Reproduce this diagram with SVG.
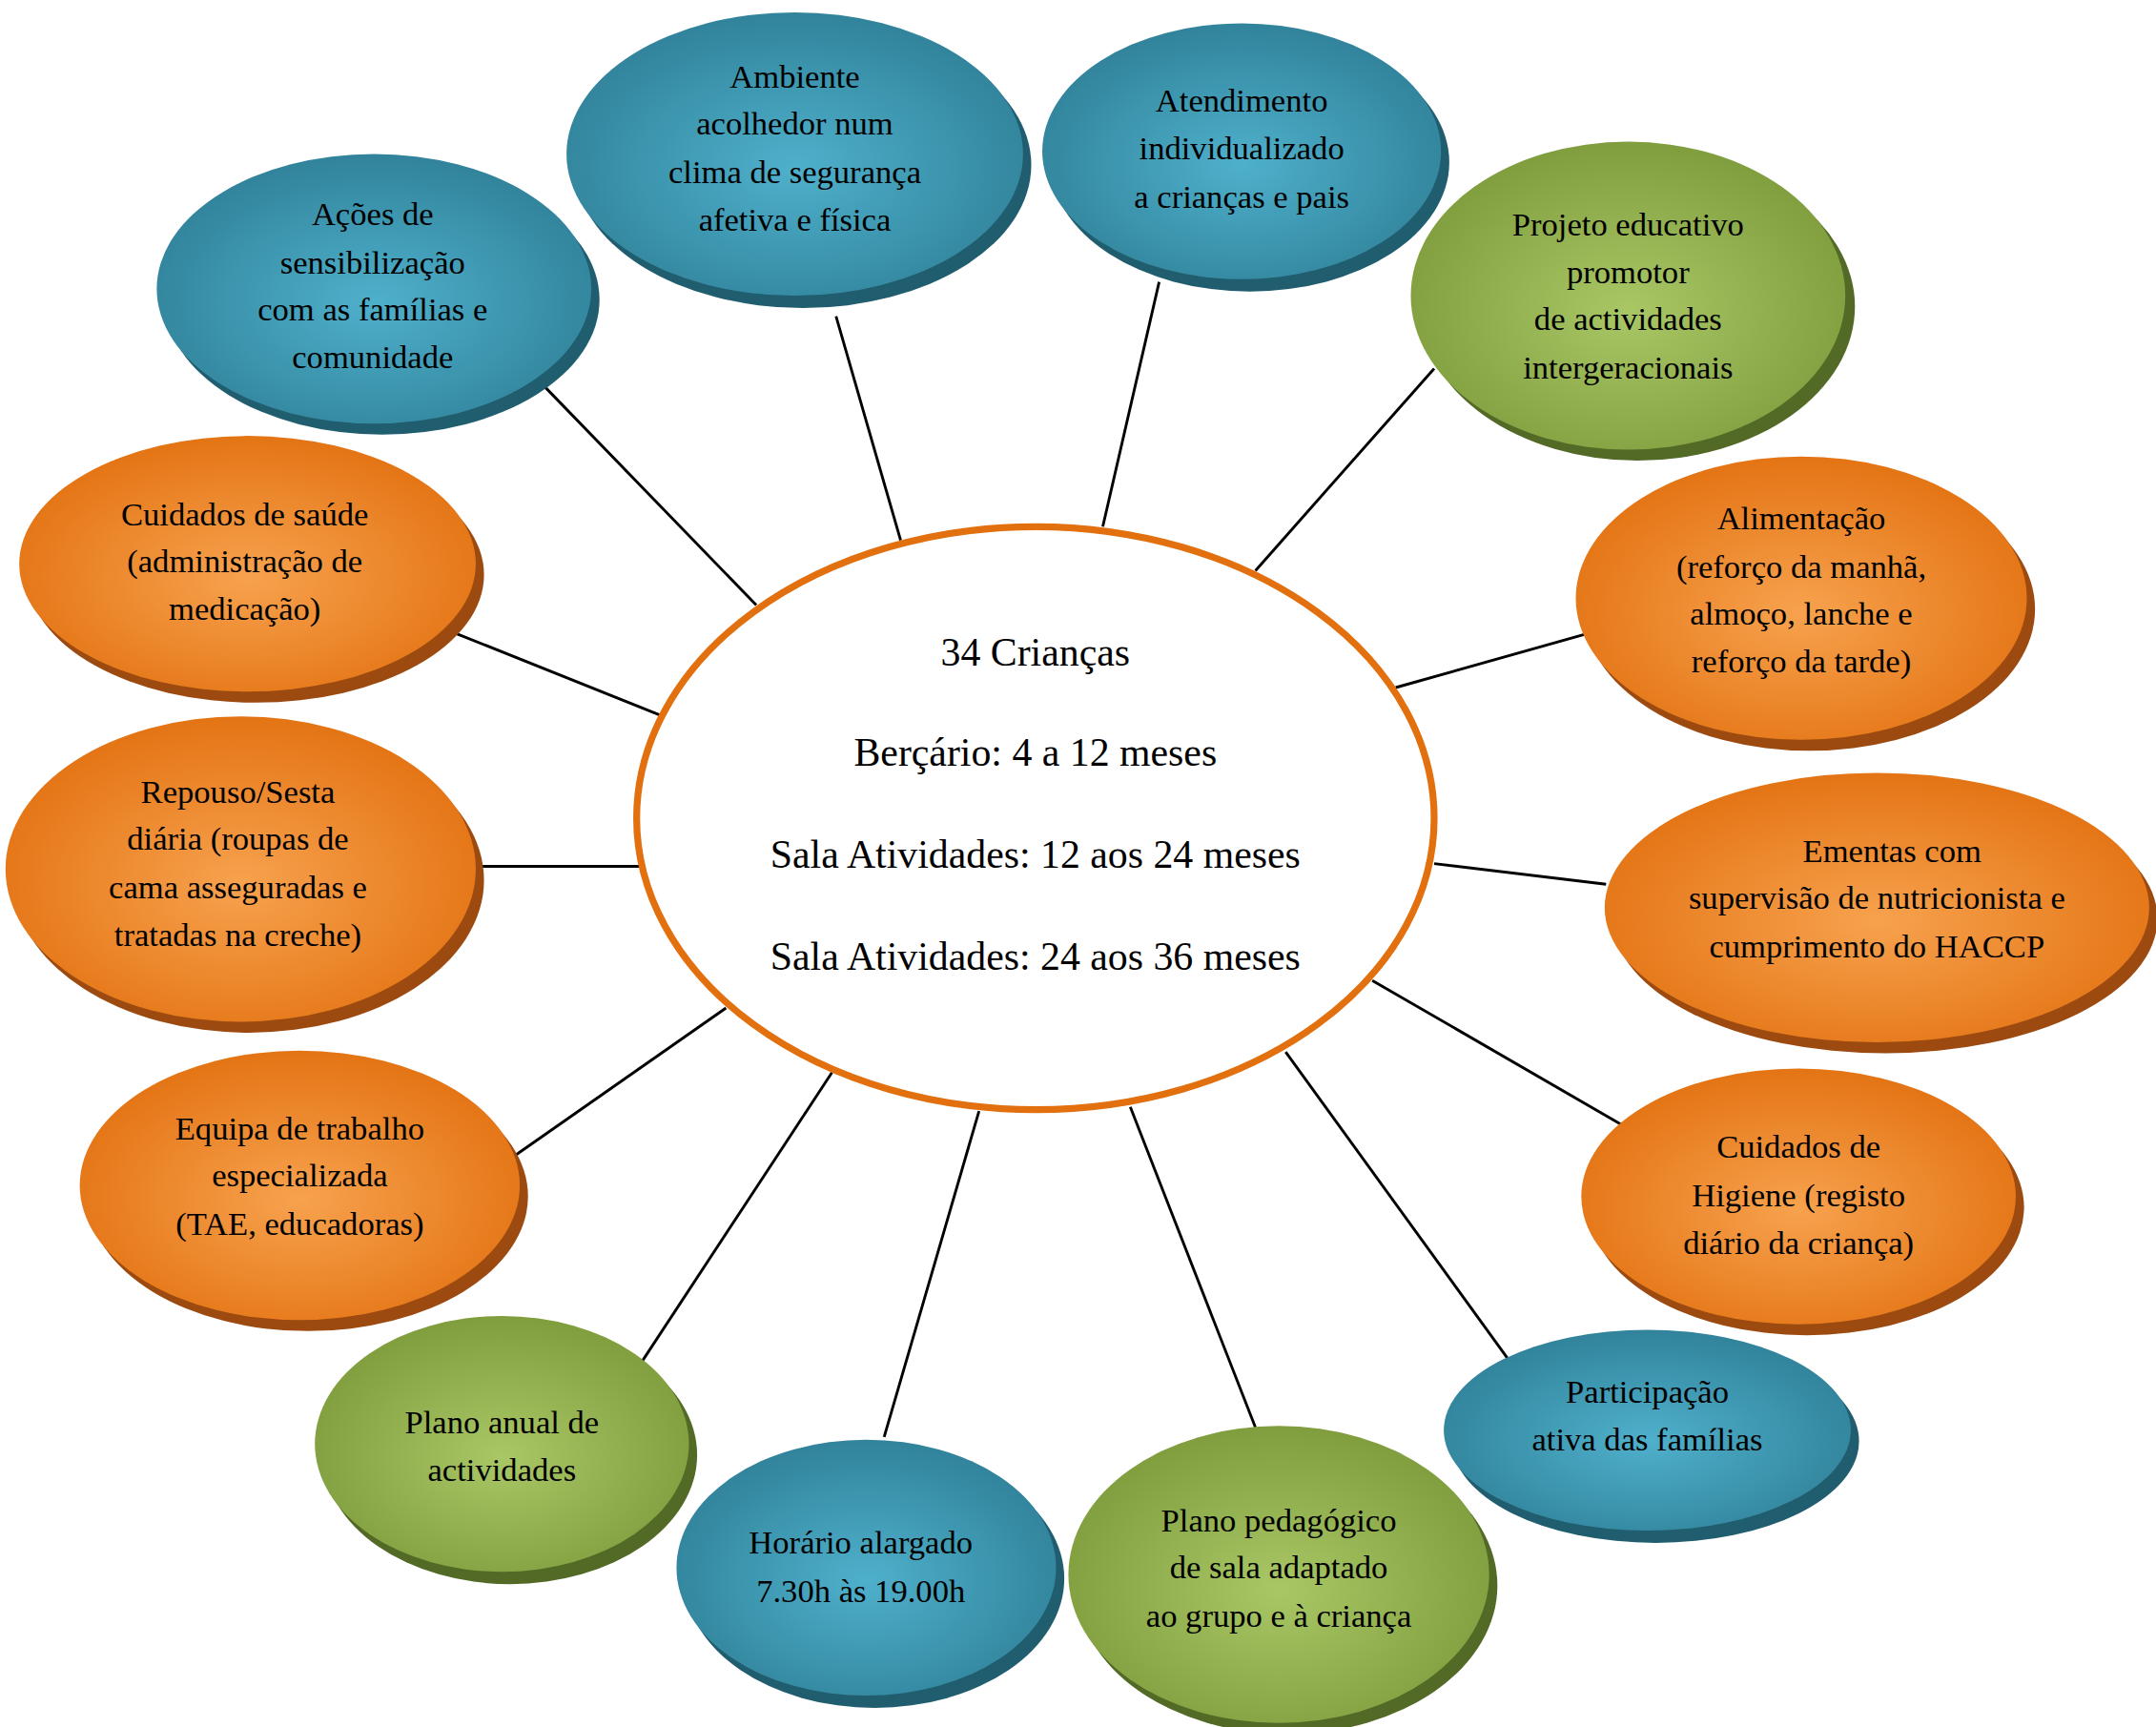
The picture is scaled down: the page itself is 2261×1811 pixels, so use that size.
<svg xmlns="http://www.w3.org/2000/svg" width="2261" height="1811" viewBox="0 0 2261 1811">
<defs>
<radialGradient id="gb" cx="50%" cy="55%" r="60%"><stop offset="0" stop-color="#4fb0cc"/><stop offset="1" stop-color="#2e7f96"/></radialGradient>
<radialGradient id="go" cx="50%" cy="55%" r="60%"><stop offset="0" stop-color="#f7a24e"/><stop offset="1" stop-color="#e2700f"/></radialGradient>
<radialGradient id="gg" cx="50%" cy="55%" r="60%"><stop offset="0" stop-color="#a9c765"/><stop offset="1" stop-color="#7c9a3a"/></radialGradient>
</defs>
<style>
.sb{fill:#1f5d6f}.so{fill:#9c4a10}.sg{fill:#536a26}
.b{fill:url(#gb)}.o{fill:url(#go)}.g{fill:url(#gg)}
text{font-family:"Liberation Serif","Times New Roman",serif;font-size:24px;fill:#000;text-anchor:middle}
.c{font-size:29px}
line{stroke:#000;stroke-width:2}
</style>
<rect width="2261" height="1811" fill="#fff"/>
<g transform="scale(1.442)">
<g id="connectors">
<line x1="393" y1="278" x2="550" y2="440"/>
<line x1="608" y1="230" x2="655" y2="393"/>
<line x1="843" y1="205" x2="802" y2="383"/>
<line x1="1043" y1="268" x2="913" y2="415"/>
<line x1="1157" y1="460" x2="1015" y2="500"/>
<line x1="1168" y1="643" x2="1043" y2="628"/>
<line x1="1183" y1="820" x2="998" y2="713"/>
<line x1="1098" y1="990" x2="935" y2="765"/>
<line x1="913" y1="1038" x2="822" y2="805"/>
<line x1="643" y1="1045" x2="712" y2="808"/>
<line x1="465" y1="993" x2="605" y2="780"/>
<line x1="375" y1="840" x2="528" y2="733"/>
<line x1="345" y1="630" x2="465" y2="630"/>
<line x1="330" y1="460" x2="480" y2="520"/>
</g>
<g id="center"><ellipse cx="753" cy="595" rx="290" ry="212" fill="#fff" stroke="#e2700f" stroke-width="5"/>
<text class="c" x="753" y="484">34 Crianças</text><text class="c" x="753" y="557">Berçário: 4 a 12 meses</text><text class="c" x="753" y="631">Sala Atividades: 12 aos 24 meses</text><text class="c" x="753" y="705">Sala Atividades: 24 aos 36 meses</text></g>
<g id="n1"><ellipse class="sb" cx="584" cy="120" rx="166" ry="104"/><ellipse class="b" cx="578" cy="112" rx="166" ry="103"/><text x="578" y="64">Ambiente</text><text x="578" y="98">acolhedor num</text><text x="578" y="133">clima de segurança</text><text x="578" y="168">afetiva e física</text></g>
<g id="n2"><ellipse class="sb" cx="909" cy="118" rx="145" ry="94"/><ellipse class="b" cx="903" cy="110" rx="145" ry="93"/><text x="903" y="81">Atendimento</text><text x="903" y="116">individualizado</text><text x="903" y="151">a crianças e pais</text></g>
<g id="n3"><ellipse class="sg" cx="1191" cy="223" rx="158" ry="112"/><ellipse class="g" cx="1184" cy="215" rx="158" ry="112"/><text x="1184" y="171">Projeto educativo</text><text x="1184" y="206">promotor</text><text x="1184" y="240">de actividades</text><text x="1184" y="275">intergeracionais</text></g>
<g id="n4"><ellipse class="so" cx="1316" cy="443" rx="164" ry="103"/><ellipse class="o" cx="1310" cy="435" rx="164" ry="103"/><text x="1310" y="385">Alimentação</text><text x="1310" y="420">(reforço da manhã,</text><text x="1310" y="454">almoço, lanche e</text><text x="1310" y="489">reforço da tarde)</text></g>
<g id="n5"><ellipse class="so" cx="1371" cy="668" rx="198" ry="98"/><ellipse class="o" cx="1365" cy="660" rx="198" ry="98"/><text x="1376" y="627">Ementas com</text><text x="1365" y="661">supervisão de nutricionista e</text><text x="1365" y="696">cumprimento do HACCP</text></g>
<g id="n6"><ellipse class="so" cx="1314" cy="878" rx="158" ry="93"/><ellipse class="o" cx="1308" cy="870" rx="158" ry="93"/><text x="1308" y="842">Cuidados de</text><text x="1308" y="877">Higiene (registo</text><text x="1308" y="912">diário da criança)</text></g>
<g id="n7"><ellipse class="sb" cx="1204" cy="1048" rx="148" ry="74"/><ellipse class="b" cx="1198" cy="1040" rx="148" ry="73"/><text x="1198" y="1020">Participação</text><text x="1198" y="1055">ativa das famílias</text></g>
<g id="n8"><ellipse class="sg" cx="936" cy="1153" rx="153" ry="108"/><ellipse class="g" cx="930" cy="1145" rx="153" ry="108"/><text x="930" y="1114">Plano pedagógico</text><text x="930" y="1148">de sala adaptado</text><text x="930" y="1183">ao grupo e à criança</text></g>
<g id="n9"><ellipse class="sb" cx="636" cy="1148" rx="138" ry="94"/><ellipse class="b" cx="630" cy="1140" rx="138" ry="93"/><text x="626" y="1130">Horário alargado</text><text x="626" y="1165">7.30h às 19.00h</text></g>
<g id="n10"><ellipse class="sg" cx="371" cy="1058" rx="136" ry="94"/><ellipse class="g" cx="365" cy="1050" rx="136" ry="93"/><text x="365" y="1042">Plano anual de</text><text x="365" y="1077">actividades</text></g>
<g id="n11"><ellipse class="so" cx="224" cy="870" rx="160" ry="98"/><ellipse class="o" cx="218" cy="862" rx="160" ry="98"/><text x="218" y="829">Equipa de trabalho</text><text x="218" y="863">especializada</text><text x="218" y="898">(TAE, educadoras)</text></g>
<g id="n12"><ellipse class="so" cx="181" cy="640" rx="171" ry="111"/><ellipse class="o" cx="175" cy="632" rx="171" ry="111"/><text x="173" y="584">Repouso/Sesta</text><text x="173" y="618">diária (roupas de</text><text x="173" y="653">cama asseguradas e</text><text x="173" y="688">tratadas na creche)</text></g>
<g id="n13"><ellipse class="so" cx="186" cy="418" rx="166" ry="93"/><ellipse class="o" cx="180" cy="410" rx="166" ry="93"/><text x="178" y="382">Cuidados de saúde</text><text x="178" y="416">(administração de</text><text x="178" y="451">medicação)</text></g>
<g id="n14"><ellipse class="sb" cx="278" cy="218" rx="158" ry="98"/><ellipse class="b" cx="272" cy="210" rx="158" ry="98"/><text x="271" y="164">Ações de</text><text x="271" y="199">sensibilização</text><text x="271" y="233">com as famílias e</text><text x="271" y="268">comunidade</text></g>
</g>
</svg>
